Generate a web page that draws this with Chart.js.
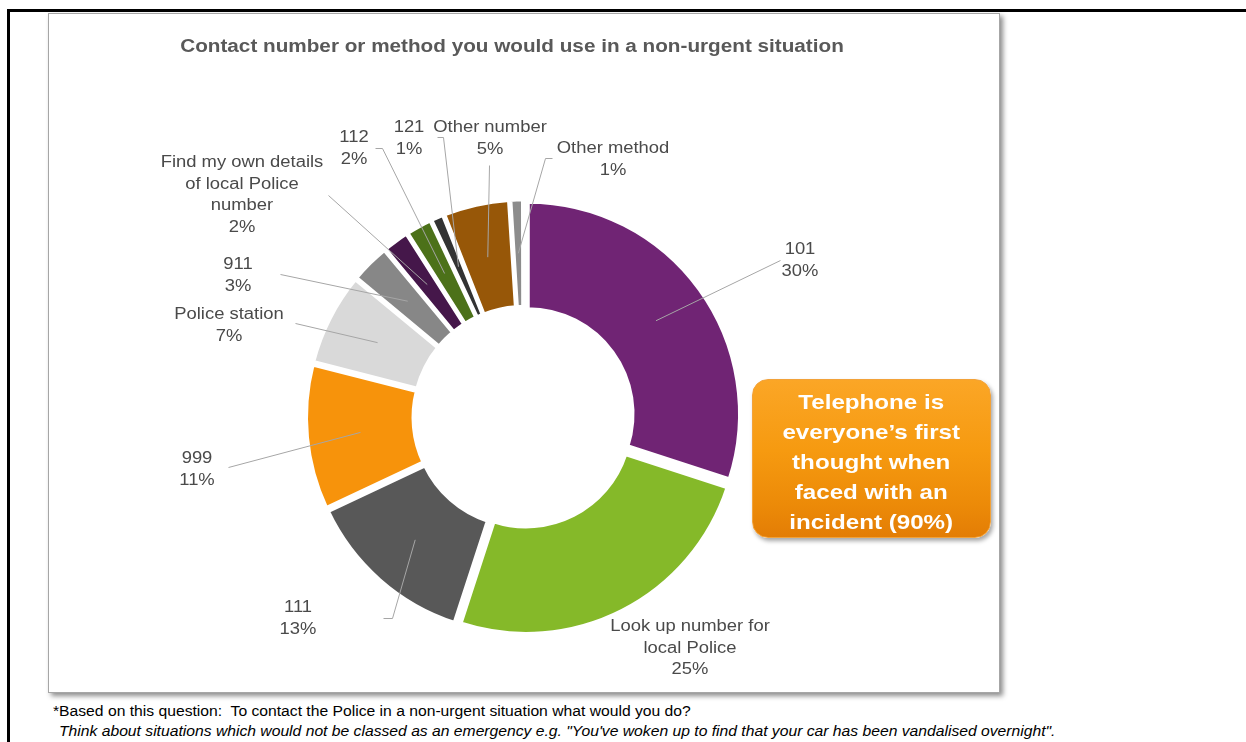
<!DOCTYPE html>
<html>
<head>
<meta charset="utf-8">
<script src="https://cdn.jsdelivr.net/npm/chart.js@4.4.1/dist/chart.umd.min.js"></script>
<style>
  html, body { margin: 0; padding: 0; background: #fff; }
  body { width: 1246px; height: 742px; position: relative; overflow: hidden; font-family: "Liberation Sans", Arial, sans-serif; }
  .rule { position: absolute; background: #000; }
  #box { position: absolute; left: 48px; top: 13px; width: 950px; height: 678px; border: 1px solid #a6a6a6; background: #fff;
         box-shadow: 3px 3px 5px rgba(0,0,0,0.45); }
  #box canvas { position: absolute; left: 0; top: 0; }
  #callout { position: absolute; left: 752px; top: 379px; width: 237px; height: 157px; border-radius: 16px;
             border: 1px solid #f2a23a;
             background: linear-gradient(to bottom, #fba626 0%, #f69a10 45%, #ec8a08 80%, #e37d05 100%);
             box-shadow: 2px 3px 4px rgba(0,0,0,0.35); text-align: center; }
  #callout .txt { display: inline-block; margin-top: 7px; color: #fff; font-weight: bold; font-size: 21px; line-height: 30px;
                  transform: scaleX(1.15); }
  .note { position: absolute; left: 53px; font-size: 14px; line-height: 20px; color: #000; white-space: pre;
          transform: scaleX(1.12); transform-origin: left center; }
</style>
</head>
<body>
<div class="rule" style="left:7px; top:9px; width:1239px; height:3px;"></div>
<div class="rule" style="left:7px; top:9px; width:3px; height:733px;"></div>
<div id="box"><canvas id="donut" width="950" height="678"></canvas></div>
<div id="callout"><div class="txt">Telephone is<br>everyone’s first<br>thought when<br>faced with an<br>incident (90%)</div></div>
<div class="note" style="top:701px;">*Based on this question:  To contact the Police in a non-urgent situation what would you do?</div>
<div class="note" style="top:721px; left:59px; font-style:italic;">Think about situations which would not be classed as an emergency e.g. "You've woken up to find that your car has been vandalised overnight".</div>

<script>
// Survey answers, clockwise from 12 o'clock
const categories = [
  '101',
  ['Look up number for', 'local Police'],
  '111',
  '999',
  'Police station',
  '911',
  ['Find my own details', 'of local Police', 'number'],
  '112',
  '121',
  'Other number',
  'Other method'
];
const shares = [30, 25, 13, 11, 7, 3, 2, 2, 1, 5, 1];
const sliceColours = ['#702474', '#85b929', '#585858', '#f7930b', '#d9d9d9', '#878787',
                      '#45174a', '#4c7119', '#333333', '#975708', '#8c8c8c'];
const chartTitle = 'Contact number or method you would use in a non-urgent situation';

// Where each data label sits (canvas px) and the bend points of its leader line
const labelPlacement = [
  { x: 751, y: 236, leader: [[731, 246]] },
  { x: 641, y: 613, leader: null },
  { x: 249, y: 594, leader: [[334, 604], [343, 604]] },
  { x: 148, y: 445, leader: [[179, 453]] },
  { x: 180, y: 301, leader: [[246, 309]] },
  { x: 189, y: 251, leader: [[231, 260]] },
  { x: 193, y: 149, leader: [[279, 181]] },
  { x: 305, y: 124, leader: [[326, 134], [333, 134]] },
  { x: 360, y: 114, leader: [[388, 123], [394, 123]] },
  { x: 441, y: 114, leader: [[440, 151]] },
  { x: 564, y: 135, leader: [[503, 144], [496, 144]] }
];

const EXPLODE = 5.5;      // radial push of every slice, px
const TEXT_STRETCH = 1.15;
const FONT = '"Liberation Sans", Arial, sans-serif';
const total = shares.reduce((a, b) => a + b, 0);

function stretchedText(ctx, text, x, y) {
  ctx.save();
  ctx.translate(x, y);
  ctx.scale(TEXT_STRETCH, 1);
  ctx.fillText(text, 0, 0);
  ctx.restore();
}

const labelPlugin = {
  id: 'sliceLabels',
  afterDatasetsDraw(chart) {
    const ctx = chart.ctx;
    const meta = chart.getDatasetMeta(0);
    ctx.save();
    // leader lines from the middle of each slice
    ctx.strokeStyle = '#a6a6a6';
    ctx.lineWidth = 1;
    meta.data.forEach((arc, i) => {
      const place = labelPlacement[i];
      if (!place.leader) return;
      const p = arc.getProps(['x', 'y', 'startAngle', 'endAngle', 'innerRadius', 'outerRadius'], true);
      const mid = (p.startAngle + p.endAngle) / 2;
      const r = (p.innerRadius + p.outerRadius) / 2 + EXPLODE;
      const ax = p.x + Math.cos(mid) * r;
      const ay = p.y + Math.sin(mid) * r;
      ctx.beginPath();
      ctx.moveTo(place.leader[0][0] + 0.5, place.leader[0][1] + 0.5);
      for (let k = 1; k < place.leader.length; k++) ctx.lineTo(place.leader[k][0] + 0.5, place.leader[k][1] + 0.5);
      ctx.lineTo(ax, ay);
      ctx.stroke();
    });
    // category name and share
    ctx.fillStyle = '#4a4a4a';
    ctx.font = '16px ' + FONT;
    ctx.textAlign = 'center';
    ctx.textBaseline = 'middle';
    const lineH = 21.5;
    categories.forEach((cat, i) => {
      const lines = (Array.isArray(cat) ? cat.slice() : [cat]);
      lines.push(shares[i] + '%');
      const place = labelPlacement[i];
      lines.forEach((t, k) => stretchedText(ctx, t, place.x, place.y + k * lineH));
    });
    // chart title
    ctx.fillStyle = '#595959';
    ctx.font = 'bold 18px ' + FONT;
    stretchedText(ctx, chartTitle, 463, 33);
    ctx.restore();
  }
};

new Chart(document.getElementById('donut'), {
  type: 'doughnut',
  data: {
    labels: categories,
    datasets: [{
      data: shares,
      backgroundColor: sliceColours,
      borderColor: '#ffffff',
      borderWidth: 4,
      borderJoinStyle: 'miter',
      offset: (c) => {
        const circ = shares[c.dataIndex] / total * Math.PI * 2;
        const fix = 1 - Math.sin(Math.min(Math.PI, circ));
        return 4 * EXPLODE / (1 + fix);
      }
    }]
  },
  options: {
    responsive: false,
    devicePixelRatio: 1,
    animation: false,
    events: [],
    radius: 212,
    cutout: '49.3%',
    layout: { padding: { top: 128, bottom: 0, left: 0, right: 1 } },
    plugins: {
      legend: { display: false },
      title: { display: false },
      tooltip: { enabled: false }
    }
  },
  plugins: [labelPlugin]
});
</script>
</body>
</html>
